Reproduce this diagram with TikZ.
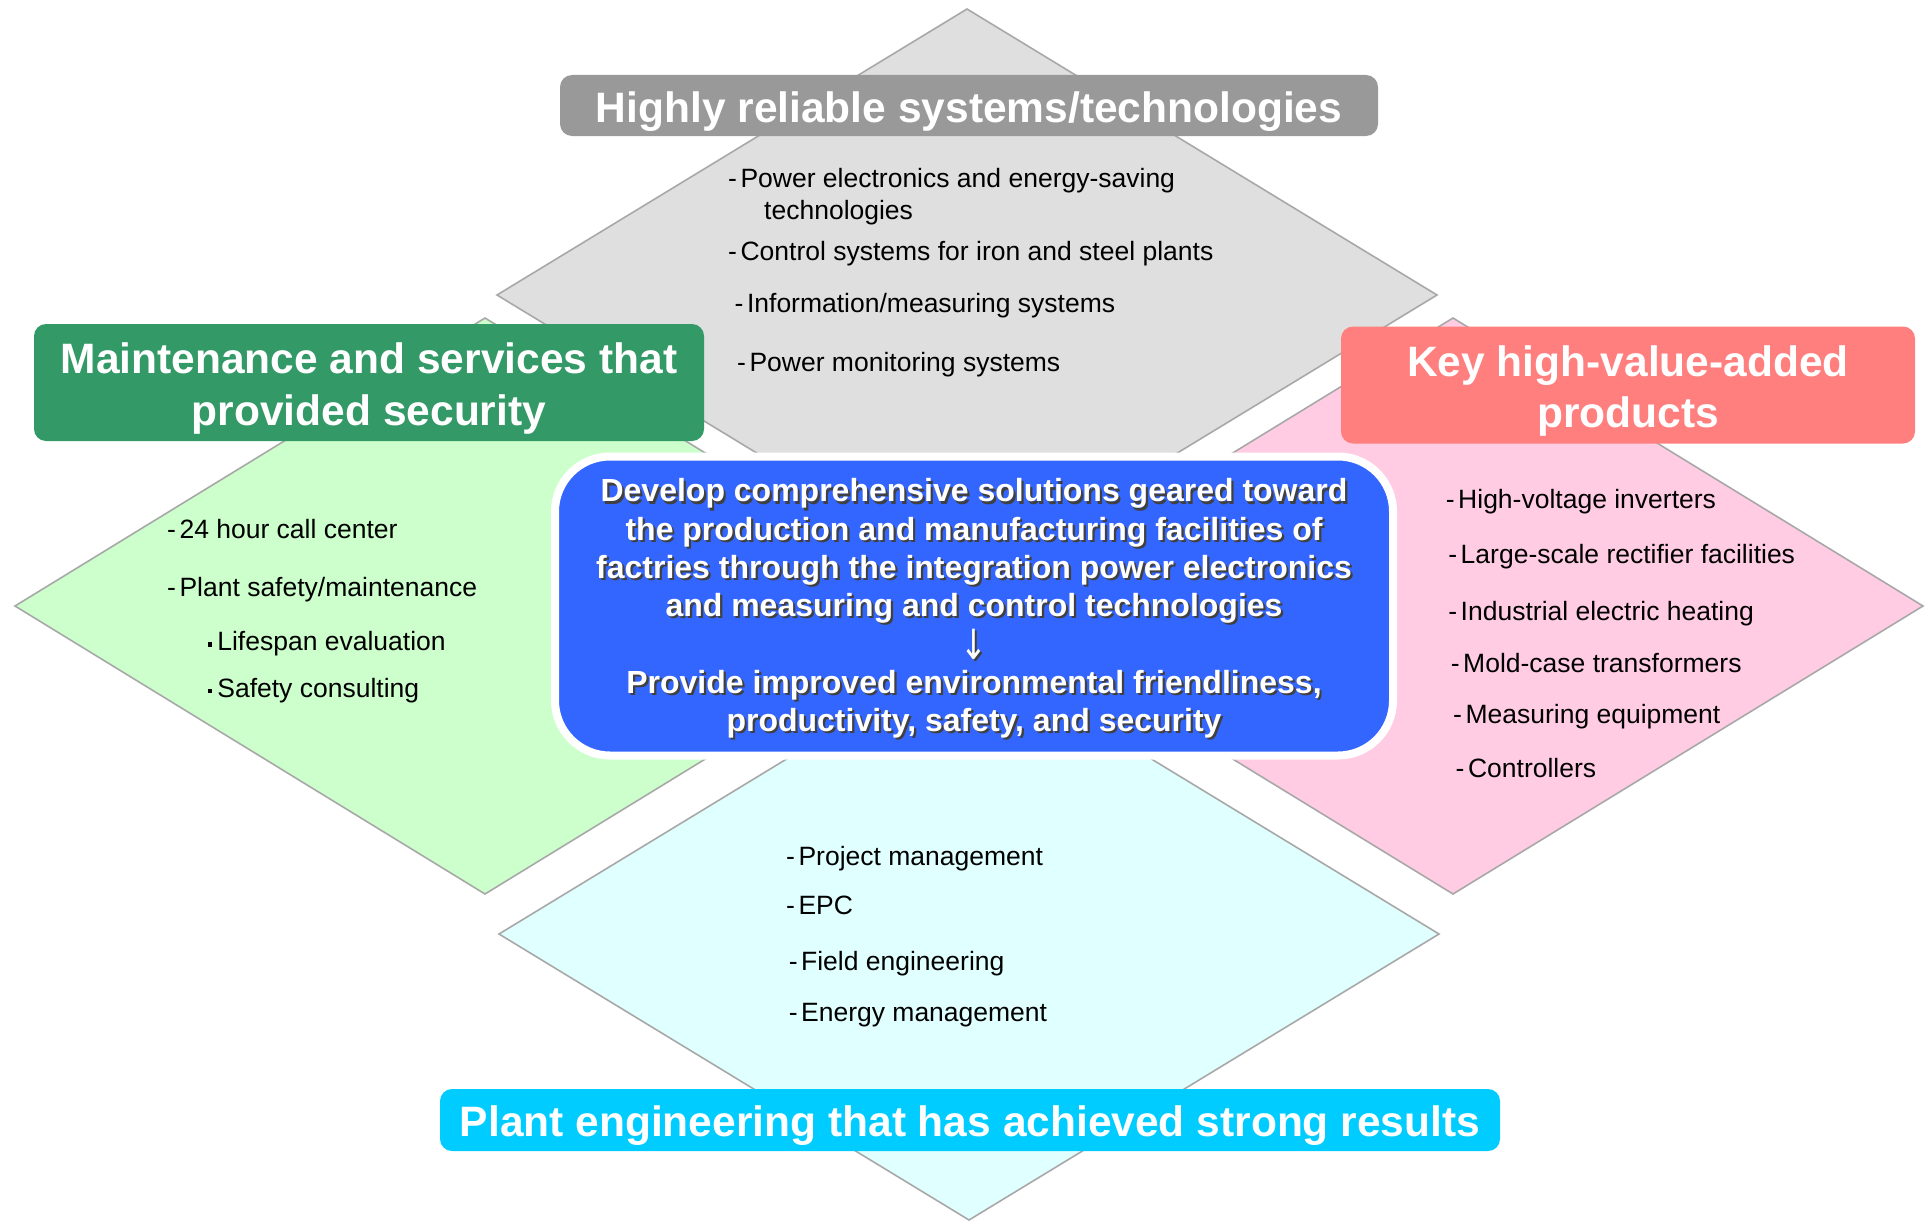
\documentclass[tikz,border=0pt]{standalone}
\usepackage{fontspec}
\setmainfont{Liberation Sans}
\newfontfamily\arrowfont{DejaVu Sans}
\definecolor{rimgray}{HTML}{A8A8A8}
\definecolor{techfill}{HTML}{DFDFDF}
\definecolor{servfill}{HTML}{CCFFCC}
\definecolor{prodfill}{HTML}{FFCCE3}
\definecolor{engfill}{HTML}{E0FFFF}
\definecolor{techhead}{HTML}{999999}
\definecolor{servhead}{HTML}{339966}
\definecolor{prodhead}{HTML}{FF7F7F}
\definecolor{enghead}{HTML}{00CCFF}
\definecolor{corefill}{HTML}{3366FF}
\newcommand{\subdot}{\raisebox{0.3ex}{\rule{0.16em}{0.16em}}\hspace{0.2em}}
\newcommand{\dashmark}{-\kern3.5pt}
\begin{document}
\begin{tikzpicture}[x=1pt,y=-1pt,
  panel/.style={draw=rimgray,line width=1.6pt},
  headbox/.style={rounded corners=12pt,inner sep=0pt},
  headtext/.style={text=white,inner sep=0pt,align=center,
    font=\fontsize{42.5}{51.5}\selectfont\bfseries},
  item/.style={anchor=base west,inner sep=0pt,font=\fontsize{26.5}{32}\selectfont},
  coretext/.style={inner sep=0pt,align=center,font=\fontsize{32}{38.3}\selectfont\bfseries}]
\useasboundingbox (0,0) rectangle (1926,1220);

% four quadrant panels
\path[panel,fill=techfill] (967,9) -- (1437,295) -- (967,581) -- (497,295) -- cycle;
\path[panel,fill=servfill] (485,318) -- (955,606) -- (485,894) -- (15,606) -- cycle;
\path[panel,fill=prodfill] (1453,318) -- (1923,606) -- (1453,894) -- (983,606) -- cycle;
\path[panel,fill=engfill] (969,648) -- (1439,934) -- (969,1220) -- (499,934) -- cycle;

% panel headings
\node[headbox,fill=techhead,minimum width=818pt,minimum height=61pt] (techbox) at (969,105.5) {};
\node[headbox,fill=servhead,minimum width=670pt,minimum height=117pt] (servbox) at (369,382.5) {};
\node[headbox,fill=prodhead,minimum width=574pt,minimum height=117pt] (prodbox) at (1628,385) {};
\node[headbox,fill=enghead,minimum width=1060pt,minimum height=62pt] (engbox) at (970,1120) {};
\node[headtext] (techtitle) at ([shift={(0,6)}]techbox.center) {Highly reliable systems/technologies};
\node[headtext] (servtitle) at ([shift={(0,6)}]servbox.center) {Maintenance and services that\\provided security};
\node[headtext] (prodtitle) at ([shift={(0,6)}]prodbox.center) {Key high-value-added\\products};
\node[headtext] (engtitle) at ([shift={(0,5.5)}]engbox.center) {Plant engineering that has achieved strong results};

% technologies
\node[item] (t1) at (728,187.5) {\dashmark Power electronics and energy-saving};
\node[item] (t1b) at (764,219.5) {technologies};
\node[item] (t2) at (728,260.1) {\dashmark Control systems for iron and steel plants};
\node[item] (t3) at (734.5,312.9) {\dashmark Information/measuring systems};
\node[item] (t4) at (737,371.8) {\dashmark Power monitoring systems};

% maintenance and services
\node[item] (s1) at (167,538.9) {\dashmark 24 hour call center};
\node[item] (s2) at (167,596.6) {\dashmark Plant safety/maintenance};
\node[item] (s3) at (207.6,650.7) {\subdot Lifespan evaluation};
\node[item] (s4) at (207.6,697.4) {\subdot Safety consulting};

% products
\node[item] (p1) at (1445.7,508.2) {\dashmark High-voltage inverters};
\node[item] (p2) at (1448.2,563.5) {\dashmark Large-scale rectifier facilities};
\node[item] (p3) at (1448.2,620) {\dashmark Industrial electric heating};
\node[item] (p4) at (1450.7,672.8) {\dashmark Mold-case transformers};
\node[item] (p5) at (1453,723.1) {\dashmark Measuring equipment};
\node[item] (p6) at (1455.5,777.2) {\dashmark Controllers};

% plant engineering
\node[item] (e1) at (786,865.5) {\dashmark Project management};
\node[item] (e2) at (786,914.8) {\dashmark EPC};
\node[item] (e3) at (788.6,970) {\dashmark Field engineering};
\node[item] (e4) at (788.6,1021.6) {\dashmark Energy management};

% central statement
\node[draw=white,line width=8pt,fill=corefill,rounded corners=55pt,
  minimum width=838pt,minimum height=299pt,inner sep=0pt] (core) at (974,606) {};
\def\corelines{Develop comprehensive solutions geared toward\\
the production and manufacturing facilities of\\
factries through the integration power electronics\\
and measuring and control technologies\\
{\arrowfont\mdseries\raisebox{-4pt}{\scalebox{1}[1.3]{\char"2193}}}\\
Provide improved environmental friendliness,\\
productivity, safety, and security}
\node[coretext,text=black!75] (coreshade) at ([shift={(2.2,4.7)}]core.center) {\corelines};
\node[coretext,text=white] (coretxt) at ([shift={(0,2.5)}]core.center) {\corelines};
\end{tikzpicture}
\end{document}
